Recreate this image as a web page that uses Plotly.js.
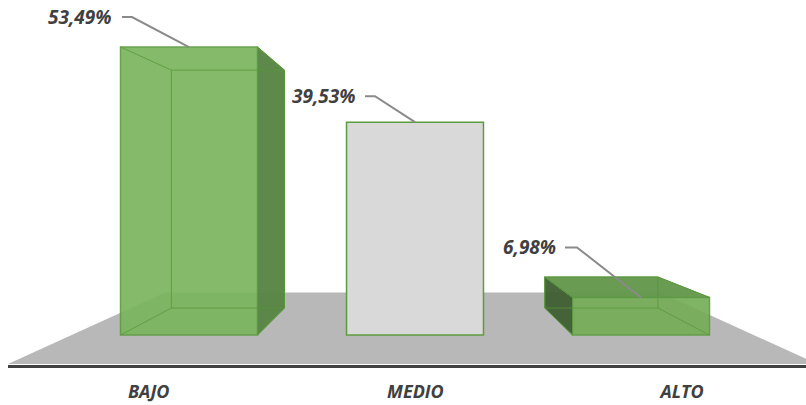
<!DOCTYPE html>
<html><head><meta charset="utf-8">
<script src="https://cdn.plot.ly/plotly-3.0.1.min.js"></script>
<style>html,body{margin:0;padding:0;background:#fff;}#chart{width:806px;height:405px;}</style>
</head><body><div id="chart"></div>
<script>
// ---- data ----
const categories = ['BAJO', 'MEDIO', 'ALTO'];
const values = [53.49, 39.53, 6.98];
const valueLabels = ['53,49%', '39,53%', '6,98%'];

// ---- geometry / style ----
const W = 806, H = 405, ML = 8, MB = 40;
const CENTER0_PX = 189, PX_PER_CAT = 226;
const ZERO_PX = 335, PX_PER_PCT = 5.384;
const BAR_W = 0.606;
const VX = 0.99, VY = 28.8;          // vanishing point (data units)
const BAR_DEPTH = 0.826, FLOOR_DEPTH = 0.612;
const LABEL_SPREAD = 1.18;
const barStyles = [
  {fill: '#7ab55d', opacity: 0.92, transparent: true},
  {fill: '#d9d9d9', opacity: 1.0, transparent: false},
  {fill: '#75ae57', opacity: 0.92, transparent: true}
];
const leaderPx = [
  {ex: -57, ey: -30, hx: -67, tx: -75},
  {ex: -40, ey: -26, hx: -50, tx: -57},
  {ex: -64, ey: -50, hx: -76, tx: -83}
];
const EDGE = '#5e9c40';

const xRange = [(ML - CENTER0_PX) / PX_PER_CAT, (W - CENTER0_PX) / PX_PER_CAT];
const yRange = [(ZERO_PX - (H - MB)) / PX_PER_PCT, ZERO_PX / PX_PER_PCT];
const dxPx = p => p / PX_PER_CAT;
const dyPx = p => -p / PX_PER_PCT;
const persp = (x, y, s) => [VX + s * (x - VX), VY + s * (y - VY)];

const traces = [];
const xs = categories.map((c, i) => i);

// front faces as bars
traces.push({
  type: 'bar', x: xs, y: values, width: BAR_W,
  marker: {color: barStyles.map(s => s.fill), opacity: barStyles.map(s => s.opacity),
           line: {color: EDGE, width: 1.5}},
  hoverinfo: 'skip'
});

function poly(pts, fill, line) {
  traces.push({type: 'scatter', mode: 'lines', fill: 'toself', fillcolor: fill,
    x: pts.map(p => p[0]).concat([pts[0][0]]), y: pts.map(p => p[1]).concat([pts[0][1]]),
    line: {color: line, width: 1}, hoverinfo: 'skip'});
}

values.forEach((v, i) => {
  const L = i - BAR_W / 2, R = i + BAR_W / 2, T = v, B = 0;
  const bl = persp(L, 0, BAR_DEPTH)[0], br = persp(R, 0, BAR_DEPTH)[0];
  const bt = persp(0, T, BAR_DEPTH)[1], bb = persp(0, B, BAR_DEPTH)[1];
  if (barStyles[i].transparent) {
    if (bl < L) poly([[L, B], [L, T], [bl, bt], [bl, bb]], 'rgba(62,94,50,0.95)', EDGE);
    if (br > R) poly([[R, B], [R, T], [br, bt], [br, bb]], 'rgba(88,134,68,0.97)', EDGE);
    if (bt > T) poly([[L, T], [R, T], [br, bt], [bl, bt]], 'rgba(100,152,76,0.97)', EDGE);
    // hidden edges seen through the transparent box
    const lx = [bl, br, br, bl, bl, null, L, bl, null, R, br, null, R, br, null, L, bl];
    const ly = [bb, bb, bt, bt, bb, null, T, bt, null, T, bt, null, B, bb, null, B, bb];
    traces.push({type: 'scatter', mode: 'lines', x: lx, y: ly,
      line: {color: 'rgba(86,150,56,0.75)', width: 1}, hoverinfo: 'skip'});
  }
  // leader line
  const lp = leaderPx[i];
  traces.push({type: 'scatter', mode: 'lines',
    x: [i, i + dxPx(lp.ex), i + dxPx(lp.hx)],
    y: [v, v + dyPx(lp.ey), v + dyPx(lp.ey)],
    line: {color: '#8a8a8a', width: 2}, hoverinfo: 'skip'});
});

const annotations = values.map((v, i) => ({
  x: i + dxPx(leaderPx[i].tx), y: v + dyPx(leaderPx[i].ey), xref: 'x', yref: 'y',
  text: valueLabels[i], showarrow: false, xanchor: 'right', yanchor: 'middle',
  font: {family: 'Open Sans', size: 19, color: '#404040', weight: 700, style: 'italic'}
}));

// floor
const fy = yRange[0] + dyPx(-1);
const fl = xRange[0], fr = VX + (VX - fl);
const bfl = persp(fl, fy, FLOOR_DEPTH), bfr = persp(fr, fy, FLOOR_DEPTH);
const floorPath = `M${fl},${fy} L${fr},${fy} L${bfr[0]},${bfr[1]} L${bfl[0]},${bfl[1]} Z`;

const tickvals = xs.map(x => VX + (x - VX) * LABEL_SPREAD);

Plotly.newPlot('chart', traces, {
  width: W, height: H, margin: {l: ML, r: 0, t: 0, b: MB},
  paper_bgcolor: '#fff', plot_bgcolor: '#fff', showlegend: false, hovermode: false,
  xaxis: {range: xRange, showgrid: false, zeroline: false, showline: true, linecolor: '#404040',
          linewidth: 3, tickvals: tickvals, ticktext: categories, ticks: '', ticklabelstandoff: 8,
          tickfont: {family: 'Open Sans', size: 18, color: '#404040', weight: 700, style: 'italic'},
          fixedrange: true},
  yaxis: {range: yRange, visible: false, fixedrange: true},
  shapes: [{type: 'path', path: floorPath, xref: 'x', yref: 'y', layer: 'below',
            fillcolor: '#b8b8b8', line: {width: 0}}],
  annotations: annotations
}, {displayModeBar: false, staticPlot: true});
</script></body></html>
